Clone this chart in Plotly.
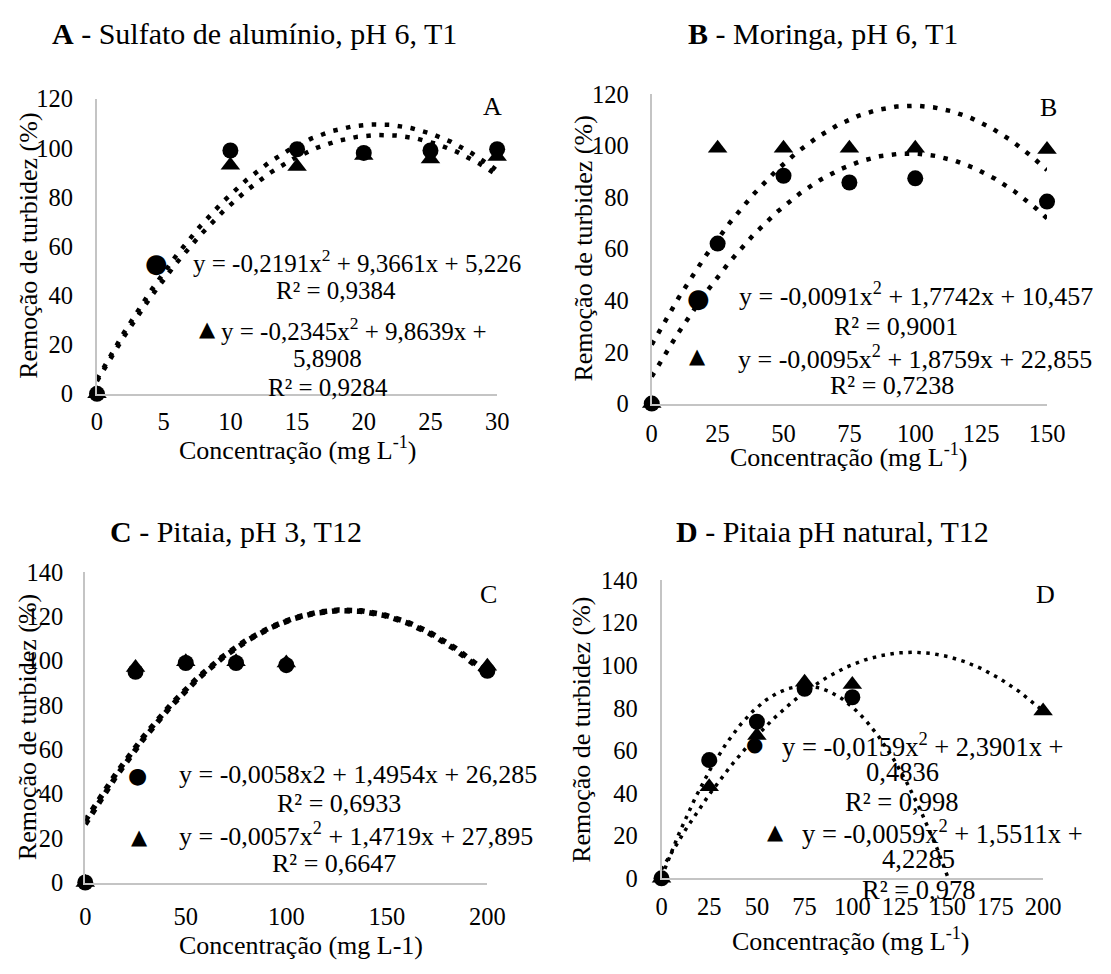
import numpy as np
import plotly.graph_objects as go

W, H = 1111, 974
FONT = "Liberation Serif, Times New Roman, serif"
SYM = "DejaVu Sans"

# ---------------- data ----------------
a_x = [0, 10, 15, 20, 25, 30]
a_circ = [0, 99, 99.5, 98, 99, 99.5]
a_tri = [0, 93, 92.5, 97, 95.5, 96.5]
a_fit_circ = [-0.2191, 9.3661, 5.226]
a_fit_tri = [-0.2345, 9.8639, 5.8908]

b_x = [0, 25, 50, 75, 100, 150]
b_circ = [0, 62, 88.3, 85.7, 87.3, 78.3]
b_tri = [0, 99, 99, 99, 99, 98.5]
b_fit_circ = [-0.0091, 1.7742, 10.457]
b_fit_tri = [-0.0095, 1.8759, 22.855]

c_x = [0, 25, 50, 75, 100, 200]
c_circ = [0, 95, 99, 99, 98, 95.5]
c_tri = [0, 97, 99.5, 99.5, 99, 97.5]
c_fit_circ = [-0.0058, 1.4954, 26.285]
c_fit_tri = [-0.0057, 1.4719, 27.895]

d_x_circ = [0, 25, 50, 75, 100]
d_circ = [0, 55.5, 73.5, 89, 85]
d_x_tri = [0, 25, 50, 75, 100, 200]
d_tri = [0, 43, 67, 92, 91, 78.5]
d_fit_circ = [-0.0159, 2.3901, 0.4836]
d_fit_tri = [-0.0059, 1.5511, 4.2285]

titles = ["<b>A</b> - Sulfato de alumínio, pH 6, T1",
          "<b>B</b> - Moringa, pH 6, T1",
          "<b>C</b> - Pitaia, pH 3, T12",
          "<b>D</b> - Pitaia pH natural, T12"]
letters = ["A", "B", "C", "D"]
xtitles = ["Concentração (mg L<sup>-1</sup>)", "Concentração (mg L<sup>-1</sup>)",
           "Concentração (mg L-1)", "Concentração (mg L<sup>-1</sup>)"]
ytitle = "Remoção de turbidez (%)"

eq_text = {
    "A": ["y = -0,2191x<sup>2</sup> + 9,3661x + 5,226", "R² = 0,9384",
          "y = -0,2345x<sup>2</sup> + 9,8639x +", "5,8908", "R² = 0,9284"],
    "B": ["y = -0,0091x<sup>2</sup> + 1,7742x + 10,457", "R² = 0,9001",
          "y = -0,0095x<sup>2</sup> + 1,8759x + 22,855", "R² = 0,7238"],
    "C": ["y = -0,0058x2 + 1,4954x + 26,285", "R² = 0,6933",
          "y = -0,0057x<sup>2</sup> + 1,4719x + 27,895", "R² = 0,6647"],
    "D": ["y = -0,0159x<sup>2</sup> + 2,3901x +", "0,4836", "R² = 0,998",
          "y = -0,0059x<sup>2</sup> + 1,5511x +", "4,2285", "R² = 0,978"],
}

# ---------------- layout (pixel positions) ----------------
# plot box: x-pixel of x-min, x-pixel of x-max, y-pixel of y-min, y-pixel of y-max
panels = [
    dict(k="A", box=(93, 502, 391.7, 88.3), xr=[0, 30], dx=5, yr=[0, 120],
         x=a_x, circ=a_circ, xt=a_x, tri=a_tri, fc=a_fit_circ, ft=a_fit_tri,
         dot=(4.5, "4.5px,8.5px"), title=(254, 21), letter=(497, 96),
         xtitle=(298, 448), ytitle=(23, 240), xstand=5, ystand=17, eqsize=25,
         eqpos=[(359, 255), (337, 285), (356, 325), (329, 355), (329, 385)],
         syms=[("●", 154, 257, 26), ("▲", 206, 325, 21)]),
    dict(k="B", box=(660, 1064, 401.7, 83.3), xr=[0, 150], dx=25, yr=[0, 120],
         x=b_x, circ=b_circ, xt=b_x, tri=b_tri, fc=b_fit_circ, ft=b_fit_tri,
         dot=(4.5, "4.5px,8.5px"), title=(835, 21), letter=(1066, 97),
         xtitle=(862, 455), ytitle=(590, 242), xstand=7, ystand=16, eqsize=26,
         eqpos=[(930, 290), (910, 322), (929, 354), (906, 383)],
         syms=[("●", 708, 293, 26), ("▲", 707, 353, 21)]),
    dict(k="C", box=(81, 492, 894.3, 575), xr=[0, 200], dx=50, yr=[0, 140],
         x=c_x, circ=c_circ, xt=c_x, tri=c_tri, fc=c_fit_circ, ft=c_fit_tri,
         dot=(5.5, "5.5px,7px"), title=(235, 533), letter=(493, 598),
         xtitle=(302, 959), ytitle=(22, 735), xstand=11, ystand=15, eqsize=26,
         eqpos=[(360, 783), (340, 813), (358, 845), (335, 875)],
         syms=[("●", 134, 784, 22), ("▲", 136, 847, 21)]),
    dict(k="D", box=(670, 1060, 890, 583.3), xr=[0, 200], dx=25, yr=[0, 140],
         x=d_x_circ, circ=d_circ, xt=d_x_tri, tri=d_tri, fc=d_fit_circ, ft=d_fit_tri,
         dot=(3.5, "3.5px,5.5px"), title=(845, 533), letter=(1062, 598),
         xtitle=(864, 953), ytitle=(588, 737), xstand=5, ystand=17, eqsize=26.5,
         eqpos=[(937, 753), (916, 781), (915, 812), (957, 842), (933, 870), (933, 902)],
         syms=[("●", 765, 752, 20), ("▲", 786, 842, 21)]),
]


def px(x):
    return x / W


def py(y):
    return 1 - y / H


fig = go.Figure()
annotations = []
layout_axes = {}


def ann(text, x, y, size, family=FONT, angle=0):
    return dict(text=text, x=px(x), y=py(y), xref="paper", yref="paper",
                xanchor="center", yanchor="middle", showarrow=False, textangle=angle,
                font=dict(family=family, size=size, color="black"))


for i, p in enumerate(panels):
    n = "" if i == 0 else str(i + 1)
    xa, ya = "x" + n, "y" + n
    x0, x1, y0, y1 = p["box"]
    axis_common = dict(showgrid=False, zeroline=False, showline=True,
                       linecolor="#c4c4c4", linewidth=2, ticks="",
                       tickfont=dict(family=FONT, size=24.5, color="black"),
                       fixedrange=True, tick0=0)
    layout_axes["xaxis" + n] = dict(axis_common, domain=[px(x0), px(x1)], range=p["xr"],
                                    dtick=p["dx"], anchor=ya,
                                    ticklabelstandoff=p["xstand"])
    layout_axes["yaxis" + n] = dict(axis_common, domain=[py(y0), py(y1)], range=p["yr"],
                                    dtick=20, anchor=xa,
                                    ticklabelstandoff=p["ystand"])

    # trendlines drawn from the equations shown on the chart
    w, dash = p["dot"]
    xs = np.linspace(p["xr"][0], p["xr"][1], 400)
    for coef in (p["fc"], p["ft"]):
        ys = np.polyval(coef, xs)
        fig.add_trace(go.Scatter(x=xs, y=ys, mode="lines", xaxis=xa, yaxis=ya,
                                 line=dict(color="black", width=w, dash=dash),
                                 hoverinfo="skip", showlegend=False))
    # observed points
    fig.add_trace(go.Scatter(x=p["xt"], y=p["tri"], mode="markers", xaxis=xa, yaxis=ya,
                             marker=dict(symbol="triangle-up", size=17, color="black"),
                             cliponaxis=False, showlegend=False))
    fig.add_trace(go.Scatter(x=p["x"], y=p["circ"], mode="markers", xaxis=xa, yaxis=ya,
                             marker=dict(symbol="circle", size=16, color="black"),
                             cliponaxis=False, showlegend=False))

    annotations.append(ann(titles[i], *p["title"], 30))
    annotations.append(ann(letters[i], *p["letter"], 26))
    annotations.append(ann(xtitles[i], *p["xtitle"], 26))
    annotations.append(ann(ytitle, *p["ytitle"], 26, angle=-90))
    for t, (ex, ey) in zip(eq_text[p["k"]], p["eqpos"]):
        annotations.append(ann(t, ex, ey, p["eqsize"]))
    for s, sx, sy, sz in p["syms"]:
        annotations.append(ann(s, sx, sy, sz, family=SYM))

fig.update_layout(width=W, height=H, margin=dict(l=0, r=0, t=0, b=0),
                  paper_bgcolor="white", plot_bgcolor="white",
                  annotations=annotations, showlegend=False, **layout_axes)

fig.write_html("out.html")
